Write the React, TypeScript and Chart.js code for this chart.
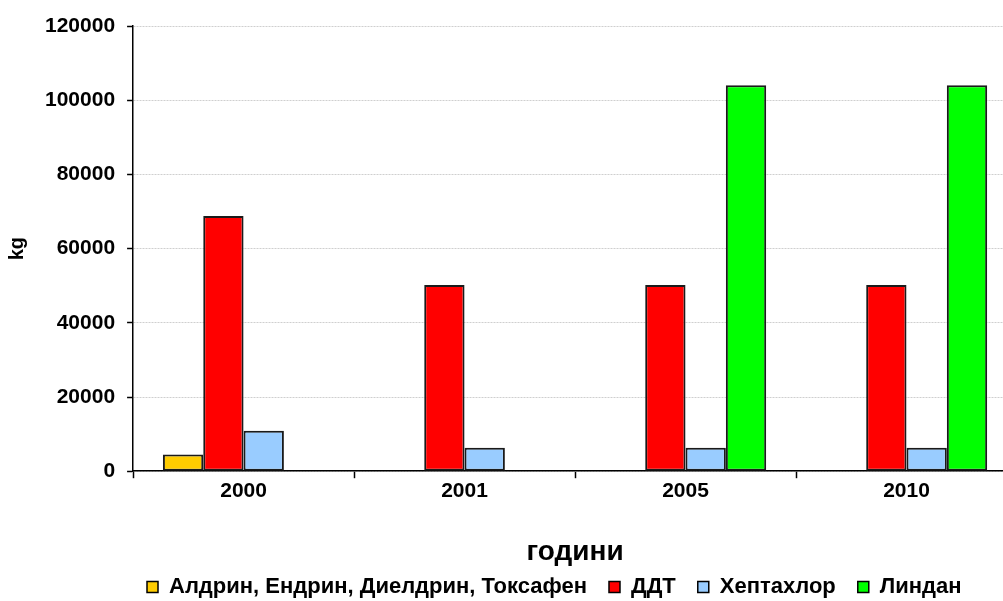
import React, { useEffect, useRef } from "react";
import { Chart, registerables } from "chart.js";

Chart.register(...registerables);

const categories = ["2000", "2001", "2005", "2010"];
const aldrinValues = [4500, null, null, null];
const ddtValues = [68800, 50200, 50200, 50200];
const heptachlorValues = [10900, 6300, 6300, 6300];
const lindaneValues = [null, null, 104000, 104000];
const seriesNames = ["Алдрин, Ендрин, Диелдрин, Токсафен", "ДДТ", "Хептахлор", "Линдан"];
const seriesColors = ["#FFCC00", "#FF0000", "#99CCFF", "#00FF00"];
const xTitle = "години";
const yTitle = "kg";

const LEGEND_PAD = 22;
const LEGEND_FONT = 22;

const legendPlacer = {
  id: "legendPlacer",
  afterLayout(chart: any) {
    const lg = chart.legend;
    if (!lg) return;
    const w = lg.right - lg.left;
    lg.left = 147 - LEGEND_PAD;
    lg.right = lg.left + w;
    lg.top = 587 - LEGEND_PAD - LEGEND_FONT / 2;
    lg.bottom = chart.height;
  },
};

export default function App() {
  const ref = useRef<HTMLCanvasElement>(null);
  useEffect(() => {
    if (!ref.current) return;
    const font = "'Liberation Sans', Arial, sans-serif";
    const values = [aldrinValues, ddtValues, heptachlorValues, lindaneValues];
    const chart = new Chart(ref.current, {
      type: "bar",
      data: {
        labels: categories,
        datasets: values.map((v, i) => ({
          label: seriesNames[i],
          data: v,
          backgroundColor: seriesColors[i],
          borderColor: "#1a1a1a",
          borderWidth: 2,
          borderSkipped: false,
          barPercentage: 1,
          categoryPercentage: 0.73,
        })),
      },
      plugins: [legendPlacer],
      options: {
        responsive: false,
        animation: false,
        layout: { padding: { top: 26, right: 23, left: 0, bottom: 0 } },
        plugins: {
          legend: {
            position: "bottom",
            align: "start",
            maxHeight: 30,
            labels: {
              font: { family: font, size: LEGEND_FONT, weight: "bold" },
              color: "#000",
              boxWidth: 11,
              boxHeight: 11,
              padding: LEGEND_PAD,
              generateLabels: (c: any) =>
                Chart.defaults.plugins.legend.labels.generateLabels(c).map((l: any) => ({
                  ...l,
                  lineWidth: 1.5,
                  strokeStyle: "#000",
                })),
            },
          },
          tooltip: { enabled: false },
        },
        scales: {
          x: {
            grid: {
              offset: true,
              drawOnChartArea: false,
              drawTicks: true,
              tickLength: 7,
              tickColor: "#000",
              tickWidth: 1.5,
            },
            border: { color: "#000", width: 1.5 },
            ticks: {
              font: { family: font, size: 21, weight: "bold" },
              color: "#000",
              padding: 0,
            },
            title: {
              display: true,
              text: xTitle,
              font: { family: font, size: 28, weight: "bold" },
              color: "#000",
              padding: { top: 32, bottom: 2 },
            },
          },
          y: {
            min: 0,
            max: 120000,
            ticks: {
              stepSize: 20000,
              font: { family: font, size: 21, weight: "bold" },
              color: "#000",
              padding: 12,
              callback: (v: any) => String(v),
            },
            grid: {
              color: "#cfcfcf",
              tickColor: "#000",
              tickLength: 6,
              tickWidth: 1.5,
              tickBorderDash: [],
            },
            border: { color: "#000", width: 1.5, dash: [2, 1] },
            title: {
              display: true,
              text: yTitle,
              font: { family: font, size: 20, weight: "bold" },
              color: "#000",
              padding: { top: 5, bottom: 4 },
            },
          },
        },
      },
    });
    return () => chart.destroy();
  }, []);
  return (
    <div style={{ position: "fixed", left: 0, top: 0, width: 1003, height: 601, overflow: "hidden", background: "#fff" }}>
      <canvas ref={ref} width={1040} height={601} style={{ display: "block" }} />
    </div>
  );
}
